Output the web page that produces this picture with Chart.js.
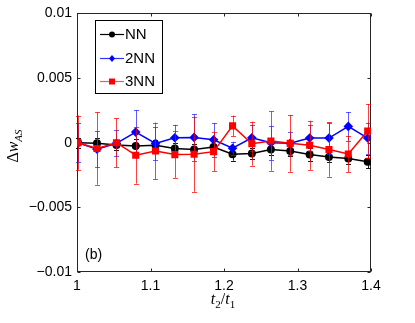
<!DOCTYPE html>
<html><head><meta charset="utf-8">
<script src="https://cdn.jsdelivr.net/npm/chart.js@4"></script>
<style>html,body{margin:0;padding:0;background:#fff;}#wrap{width:415px;height:323px;}</style>
</head><body><div id="wrap"><canvas id="c" width="415" height="323"></canvas></div>
<script>
// ---- data ----
const xValues = [1.0014, 1.0272, 1.0537, 1.0799, 1.1068, 1.1331, 1.1593, 1.1858,
                 1.2116, 1.2379, 1.2638, 1.2901, 1.3165, 1.3428, 1.3691, 1.3955];
const nnValues  = [0, -0.00005, -0.00018, -0.00025, -0.0002, -0.00045, -0.00053, -0.00033,
                   -0.00089, -0.00084, -0.00053, -0.00064, -0.00092, -0.0011, -0.00122, -0.00148];
const nnErrors  = [0.0004, 0.0004, 0.0004, 0.0005, 0.0004, 0.0004, 0.0004, 0.0005,
                   0.0005, 0.0004, 0.0004, 0.0004, 0.0005, 0.0004, 0.0004, 0.0005];
const nn2Values = [0, -0.0005, -0.00005, 0.00082, -0.00005, 0.00038, 0.00041, 0.00023,
                   -0.00043, 0.00038, 0, -0.00005, 0.00036, 0.00036, 0.00126, 0.00036];
const nn2Errors = [0.0015, 0.0014, 0.001, 0.0017, 0.0013, 0.001, 0.0018, 0.0013,
                   0.0005, 0.001, 0.0013, 0.0009, 0.001, 0.0012, 0.0011, 0.0012];
const nn3Values = [0, -0.00045, 0, -0.00097, -0.00064, -0.00092, -0.00089, -0.00069,
                   0.0013, -0.00008, 0.00013, -0.00005, -0.0002, -0.00053, -0.00087, 0.0009];
const nn3Errors = [0.0021, 0.0028, 0.0019, 0.0022, 0.0022, 0.0018, 0.0029, 0.0015,
                   0.0008, 0.0017, 0.0023, 0.0022, 0.0019, 0.0021, 0.0014, 0.0021];
const seriesNames = ['NN', '2NN', '3NN'];
const xTicks = [1, 1.1, 1.2, 1.3, 1.4];
const yTicks = [-0.01, -0.005, 0, 0.005, 0.01];
const panelLabel = '(b)';

const SANS = '"Liberation Sans", Arial, Helvetica, sans-serif';
const SERIF = '"Liberation Serif", "DejaVu Serif", serif';

function pts(vals){ return xValues.map((x,i)=>({x:x, y:vals[i]})); }

const errorBars = {
  id:'errorBars',
  beforeDatasetDraw(chart, args){
    const ds = chart.data.datasets[args.index];
    if(!ds.errors) return;
    const {ctx, scales:{x, y}} = chart;
    ctx.save();
    ctx.strokeStyle = ds.errorColor;
    ctx.lineWidth = 1;
    ds.data.forEach((p,i)=>{
      const px = Math.round(x.getPixelForValue(p.x)) + 0.5;
      const yt = y.getPixelForValue(p.y + ds.errors[i]);
      const yb = y.getPixelForValue(p.y - ds.errors[i]);
      ctx.beginPath();
      ctx.moveTo(px, yt); ctx.lineTo(px, yb);
      ctx.moveTo(px-2.5, Math.round(yt)+0.5); ctx.lineTo(px+2.5, Math.round(yt)+0.5);
      ctx.moveTo(px-2.5, Math.round(yb)+0.5); ctx.lineTo(px+2.5, Math.round(yb)+0.5);
      ctx.stroke();
    });
    ctx.restore();
  }
};

const frame = {
  id:'frame',
  beforeDatasetsDraw(chart){
    const {ctx, chartArea:a, scales:{x, y}} = chart;
    ctx.save();
    ctx.strokeStyle = '#262626';
    ctx.lineWidth = 1;
    const L = Math.round(a.left)+0.5, R = Math.round(a.right)-0.5,
          T = Math.round(a.top)+0.5, B = Math.round(a.bottom)-0.5;
    ctx.strokeRect(L, T, R-L, B-T);
    ctx.beginPath();
    xTicks.forEach(v=>{
      const px = Math.round(x.getPixelForValue(v))+0.5;
      ctx.moveTo(px, B); ctx.lineTo(px, B-3);
      ctx.moveTo(px, T); ctx.lineTo(px, T+3);
    });
    yTicks.forEach(v=>{
      const py = Math.round(y.getPixelForValue(v))+0.5;
      ctx.moveTo(L, py); ctx.lineTo(L+3, py);
      ctx.moveTo(R, py); ctx.lineTo(R-3, py);
    });
    ctx.stroke();
    ctx.restore();
  }
};

function drawMarker(ctx, style, cx, cy, r, color){
  ctx.fillStyle = color; ctx.strokeStyle = color;
  ctx.beginPath();
  if(style==='circle'){ ctx.arc(cx, cy, r, 0, Math.PI*2); }
  else if(style==='rect'){ ctx.rect(cx-r, cy-r, 2*r, 2*r); }
  else { ctx.moveTo(cx, cy-r*1.2); ctx.lineTo(cx+r, cy); ctx.lineTo(cx, cy+r*1.2); ctx.lineTo(cx-r, cy); ctx.closePath(); }
  ctx.fill();
}

const annotations = {
  id:'annotations',
  afterDraw(chart){
    const {ctx} = chart;
    ctx.save();
    // legend
    ctx.fillStyle = '#fff';
    ctx.fillRect(95.5, 20.5, 67, 73);
    ctx.strokeStyle = '#000'; ctx.lineWidth = 1;
    ctx.strokeRect(95.5, 20.5, 67, 73);
    const legendRows = [34.5, 58.5, 81.5];
    const lineColors = ['#000000', '#3333ff', '#ff5555'];
    const markColors = ['#000000', '#0000ff', '#ff0000'];
    const styles = ['circle', 'diamond', 'rect'];
    const radii = [3, 3, 3];
    seriesNames.forEach((name,i)=>{
      const yy = legendRows[i];
      ctx.strokeStyle = lineColors[i]; ctx.lineWidth = 1.2;
      ctx.beginPath(); ctx.moveTo(100, yy); ctx.lineTo(124, yy); ctx.stroke();
      drawMarker(ctx, styles[i], 112, yy, radii[i], markColors[i]);
      ctx.fillStyle = '#000';
      ctx.font = '15px ' + SANS;
      ctx.textBaseline = 'middle'; ctx.textAlign = 'left';
      ctx.fillText(name, 125, yy+0.5);
    });
    // panel label
    ctx.fillStyle = '#000';
    ctx.font = '14px ' + SANS;
    ctx.textBaseline = 'middle'; ctx.textAlign = 'left';
    ctx.fillText(panelLabel, 85, 255);

    // x axis title: t2/t1
    const big = 'italic 16px ' + SERIF, small = '11px ' + SERIF, up = '16px ' + SERIF;
    const xParts = [['t', big, 0], ['2', small, 4], ['/', up, 0], ['t', big, 0], ['1', small, 4]];
    let w = 0;
    xParts.forEach(p=>{ ctx.font = p[1]; w += ctx.measureText(p[0]).width; });
    let cx = 223 - w/2;
    ctx.textBaseline = 'alphabetic';
    xParts.forEach(p=>{ ctx.font = p[1]; ctx.fillText(p[0], cx, 304 + p[2]); cx += ctx.measureText(p[0]).width; });

    // y axis title: Δw_AS
    ctx.translate(18, 146);
    ctx.rotate(-Math.PI/2);
    const yParts = [['\u0394', up, 0], ['w', big, 0], ['AS', 'italic 11px ' + SERIF, 4]];
    w = 0;
    yParts.forEach(p=>{ ctx.font = p[1]; w += ctx.measureText(p[0]).width; });
    cx = -w/2;
    yParts.forEach(p=>{ ctx.font = p[1]; ctx.fillText(p[0], cx, p[2]); cx += ctx.measureText(p[0]).width; });
    ctx.restore();
  }
};

function fmtY(v){
  if (Math.abs(v) < 1e-12) return '0';
  return String(+v.toFixed(3)).replace('-', '\u2212');
}
function fmtX(v){
  if (Math.abs(v-1) < 1e-9) return '1';
  return v.toFixed(1);
}

new Chart(document.getElementById('c'), {
  type:'line',
  data:{ datasets:[
    {label:seriesNames[0], data:pts(nnValues), errors:nnErrors, errorColor:'rgba(0,0,0,0.9)',
     borderColor:'#000000', backgroundColor:'#000000', pointStyle:'circle', pointRadius:4,
     borderWidth:1.5, pointBorderWidth:0, order:2},
    {label:seriesNames[1], data:pts(nn2Values), errors:nn2Errors, errorColor:'rgba(40,40,255,0.75)',
     borderColor:'#0000ff', backgroundColor:'#0000ff', pointStyle:'rectRot', pointRadius:4.8,
     borderWidth:1.5, pointBorderWidth:0, order:1},
    {label:seriesNames[2], data:pts(nn3Values), errors:nn3Errors, errorColor:'rgba(255,0,0,0.75)',
     borderColor:'#ff0000', backgroundColor:'#ff0000', pointStyle:'rect', pointRadius:5,
     borderWidth:1.5, pointBorderWidth:0, order:0}
  ]},
  options:{
    responsive:false, animation:false, devicePixelRatio:1,
    layout:{padding:{left:0, top:11, right:44, bottom:0}},
    elements:{line:{tension:0}},
    plugins:{legend:{display:false}, tooltip:{enabled:false}},
    scales:{
      x:{type:'linear', min:1, max:1.4,
         afterFit(s){ s.height = 51; },
         afterBuildTicks(s){ s.ticks = xTicks.map(v=>({value:v})); },
         grid:{display:false, drawTicks:false}, border:{display:false},
         ticks:{padding:6, color:'#000', font:{family:SANS, size:14}, maxRotation:0, autoSkip:false, callback:fmtX}},
      y:{type:'linear', min:-0.01, max:0.01,
         afterFit(s){ s.width = 77; },
         afterBuildTicks(s){ s.ticks = yTicks.map(v=>({value:v})); },
         grid:{display:false, drawTicks:false}, border:{display:false},
         ticks:{padding:5, color:'#000', font:{family:SANS, size:14}, autoSkip:false, callback:fmtY}}
    }
  },
  plugins:[frame, errorBars, annotations]
});
</script></body></html>
